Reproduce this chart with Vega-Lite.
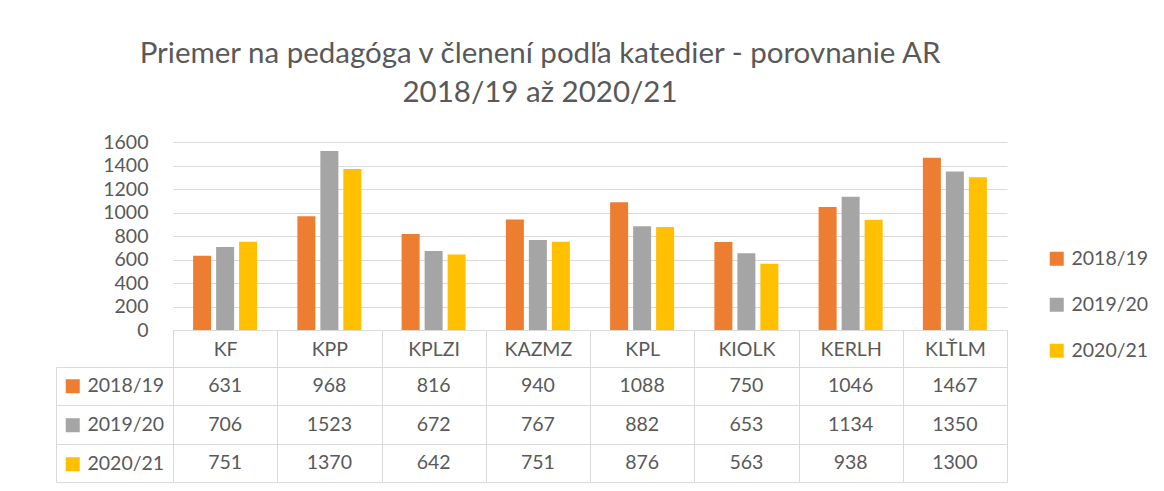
{
  "$schema": "https://vega.github.io/schema/vega-lite/v6.json",
  "background": "white",
  "padding": {"left": 55, "top": 38, "right": 5, "bottom": 5},
  "config": {
    "font": "Lato",
    "axis": {"labelFont": "Lato", "labelColor": "#595959"},
    "legend": {"labelFont": "Lato", "labelColor": "#595959"}
  },
  "title": {
    "text": ["Priemer na pedagóga v členení podľa katedier - porovnanie AR", "2018/19 až 2020/21"],
    "font": "Lato",
    "fontSize": 29.5,
    "fontWeight": "normal",
    "color": "#595959",
    "lineHeight": 39,
    "anchor": "middle",
    "dx": -62,
    "offset": 24
  },
  "data": {
    "values": [
      {"kat": "KF", "rok": "2018/19", "value": 631},
      {"kat": "KF", "rok": "2019/20", "value": 706},
      {"kat": "KF", "rok": "2020/21", "value": 751},
      {"kat": "KPP", "rok": "2018/19", "value": 968},
      {"kat": "KPP", "rok": "2019/20", "value": 1523},
      {"kat": "KPP", "rok": "2020/21", "value": 1370},
      {"kat": "KPLZI", "rok": "2018/19", "value": 816},
      {"kat": "KPLZI", "rok": "2019/20", "value": 672},
      {"kat": "KPLZI", "rok": "2020/21", "value": 642},
      {"kat": "KAZMZ", "rok": "2018/19", "value": 940},
      {"kat": "KAZMZ", "rok": "2019/20", "value": 767},
      {"kat": "KAZMZ", "rok": "2020/21", "value": 751},
      {"kat": "KPL", "rok": "2018/19", "value": 1088},
      {"kat": "KPL", "rok": "2019/20", "value": 882},
      {"kat": "KPL", "rok": "2020/21", "value": 876},
      {"kat": "KIOLK", "rok": "2018/19", "value": 750},
      {"kat": "KIOLK", "rok": "2019/20", "value": 653},
      {"kat": "KIOLK", "rok": "2020/21", "value": 563},
      {"kat": "KERLH", "rok": "2018/19", "value": 1046},
      {"kat": "KERLH", "rok": "2019/20", "value": 1134},
      {"kat": "KERLH", "rok": "2020/21", "value": 938},
      {"kat": "KLŤLM", "rok": "2018/19", "value": 1467},
      {"kat": "KLŤLM", "rok": "2019/20", "value": 1350},
      {"kat": "KLŤLM", "rok": "2020/21", "value": 1300}
    ]
  },
  "spacing": 37,
  "bounds": "flush",
  "resolve": {"legend": {"color": "independent"}},
  "vconcat": [
    {
      "width": 834,
      "height": 188,
      "view": {"stroke": null},
      "mark": {"type": "bar"},
      "encoding": {
        "x": {
          "field": "kat", "type": "nominal",
          "sort": ["KF", "KPP", "KPLZI", "KAZMZ", "KPL", "KIOLK", "KERLH", "KLŤLM"],
          "scale": {"paddingInner": 0, "paddingOuter": 0},
          "axis": {
            "title": null, "orient": "bottom", "tickBand": "extent", "tickSize": 37,
            "tickColor": "#D9D9D9", "domainColor": "#D9D9D9", "labelAngle": 0,
            "labelFontSize": 19.5, "labelPadding": -18, "labelBaseline": "middle", "grid": false
          }
        },
        "xOffset": {
          "field": "rok", "type": "nominal",
          "scale": {"paddingInner": 0.217, "paddingOuter": 0.875}
        },
        "y": {
          "field": "value", "type": "quantitative",
          "scale": {"domain": [0, 1600]},
          "axis": {
            "title": null, "values": [0, 200, 400, 600, 800, 1000, 1200, 1400, 1600],
            "format": "d",
            "domain": false, "ticks": false, "labelPadding": 25, "gridColor": "#D9D9D9",
            "labelFontSize": 19.5
          }
        },
        "color": {
          "field": "rok", "type": "nominal",
          "scale": {"domain": ["2018/19", "2019/20", "2020/21"], "range": ["#ED7D31", "#A5A5A5", "#FFC000"]},
          "legend": {
            "title": null, "orient": "none", "legendX": 874, "legendY": 94,
            "symbolType": "square", "symbolSize": 196, "symbolStrokeWidth": 0,
            "labelFontSize": 19.5, "labelOffset": 5, "clipHeight": 45.5,
            "rowPadding": 0, "padding": 0
          }
        }
      }
    },
    {
      "width": 834,
      "height": 115,
      "view": {"stroke": "#D9D9D9"},
      "layer": [
        {
          "mark": {"type": "text", "fontSize": 19.5, "color": "#595959", "font": "Lato"},
          "encoding": {
            "x": {
              "field": "kat", "type": "nominal",
              "sort": ["KF", "KPP", "KPLZI", "KAZMZ", "KPL", "KIOLK", "KERLH", "KLŤLM"],
              "scale": {"paddingInner": 0, "paddingOuter": 0},
              "axis": {
                "title": null, "tickBand": "extent", "grid": true, "gridColor": "#D9D9D9",
                "labels": false, "ticks": false, "domain": false
              }
            },
            "y": {
              "field": "rok", "type": "nominal",
              "scale": {"paddingInner": 0, "paddingOuter": 0},
              "axis": {
                "title": null, "tickBand": "extent", "grid": true, "gridColor": "#D9D9D9",
                "offset": 117, "tickSize": -117, "tickColor": "#D9D9D9",
                "domainColor": "#D9D9D9", "labels": false
              }
            },
            "text": {"field": "value", "type": "quantitative", "format": "d"}
          }
        },
        {
          "mark": {"type": "point", "filled": true, "opacity": 0},
          "encoding": {
            "y": {"field": "rok", "type": "nominal"},
            "color": {
              "field": "rok", "type": "nominal",
              "legend": {
                "title": null, "orient": "none", "legendX": -110, "legendY": 0,
                "symbolType": "square", "symbolSize": 196, "symbolStrokeWidth": 0,
                "labelFontSize": 19.5, "labelOffset": 5, "clipHeight": 38.33,
                "rowPadding": 0, "padding": 0
              }
            }
          }
        }
      ]
    }
  ]
}
